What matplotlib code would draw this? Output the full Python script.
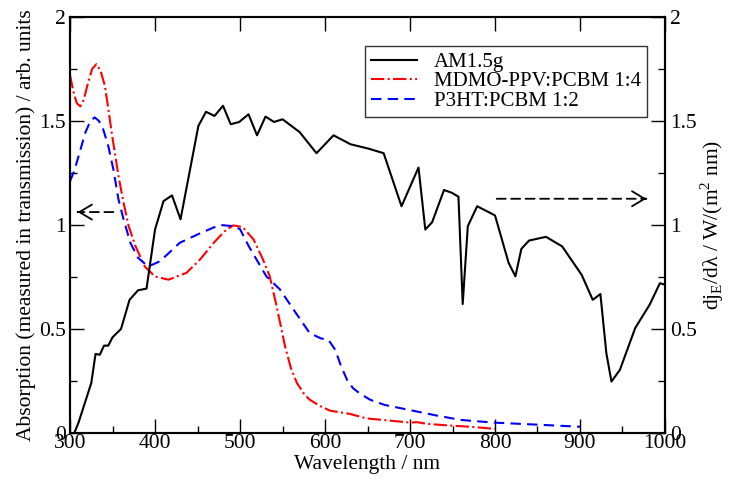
import matplotlib.pyplot as plt
from matplotlib.ticker import MultipleLocator

plt.rcParams['font.family'] = ['Liberation Serif', 'DejaVu Serif']
plt.rcParams['mathtext.fontset'] = 'custom'
plt.rcParams['mathtext.rm'] = 'Liberation Serif'

# AM1.5g spectrum (right axis)
am_wl = [305, 310, 325, 330, 335, 340, 345, 350, 360, 370, 380, 390, 400, 410, 420,
         430, 451, 460, 470, 480, 489, 499, 510, 520, 530, 540, 550, 570, 590, 610,
         630, 651, 669, 690, 710, 718, 726, 740, 749, 757, 762, 768, 779, 800, 816,
         824, 831, 840, 860, 879, 902, 915, 924, 931, 937, 947, 965, 982, 994, 1000]
am_val = [0.0, 0.05, 0.24, 0.38, 0.376, 0.42, 0.42, 0.46, 0.50, 0.64, 0.686, 0.694,
          0.978, 1.115, 1.142, 1.027, 1.476, 1.544, 1.524, 1.573, 1.484, 1.495, 1.532,
          1.431, 1.521, 1.495, 1.508, 1.447, 1.345, 1.431, 1.388, 1.367, 1.345, 1.09,
          1.276, 0.978, 1.013, 1.168, 1.155, 1.136, 0.62, 0.994, 1.09, 1.046, 0.818,
          0.753, 0.885, 0.925, 0.943, 0.897, 0.76, 0.64, 0.668, 0.384, 0.247, 0.304,
          0.505, 0.617, 0.72, 0.713]

# MDMO-PPV:PCBM 1:4 absorption
mdmo_wl = [300, 304, 308, 312, 316, 321, 326, 331, 336, 341, 345, 349, 353, 357, 363,
           369, 377, 388, 400, 416, 437, 453, 469, 482, 492, 503, 516, 527, 535, 543,
           553, 560, 567, 575, 582, 594, 606, 629, 649, 680, 700, 708, 720, 739, 770, 800]
mdmo_val = [1.72, 1.64, 1.585, 1.57, 1.6, 1.68, 1.75, 1.773, 1.74, 1.669, 1.56, 1.444,
            1.34, 1.235, 1.107, 0.994, 0.898, 0.80, 0.752, 0.737, 0.77, 0.834, 0.914,
            0.97, 0.998, 0.99, 0.93, 0.834, 0.753, 0.61, 0.416, 0.31, 0.24, 0.19, 0.16,
            0.13, 0.107, 0.092, 0.07, 0.058, 0.05, 0.052, 0.044, 0.038, 0.03, 0.02]

# P3HT:PCBM 1:2 absorption
p3ht_wl = [300, 305, 310, 318, 324, 329, 334, 339, 345, 351, 357, 363, 371, 380, 392,
           406, 429, 453, 476, 490, 500, 510, 531, 547, 563, 582, 595, 604, 612, 619,
           626, 633, 641, 653, 670, 700, 730, 759, 798, 850, 900]
p3ht_val = [1.21, 1.26, 1.33, 1.444, 1.50, 1.517, 1.50, 1.46, 1.38, 1.267, 1.123, 1.027,
            0.914, 0.842, 0.80, 0.826, 0.914, 0.96, 1.0, 0.995, 0.98, 0.90, 0.753, 0.69,
            0.593, 0.48, 0.455, 0.448, 0.40, 0.32, 0.255, 0.215, 0.19, 0.16, 0.135,
            0.11, 0.085, 0.063, 0.05, 0.04, 0.03]

fig = plt.figure(figsize=(7.31, 4.84), dpi=100)
ax = fig.add_axes([0.0958, 0.1054, 0.8139, 0.8596])
ax2 = ax.twinx()

l2, = ax.plot(mdmo_wl, mdmo_val, color='red', linestyle='-.', linewidth=1.5,
              label='MDMO-PPV:PCBM 1:4')
l3, = ax.plot(p3ht_wl, p3ht_val, color='blue', linestyle=(0, (5, 3)), linewidth=1.5,
              label='P3HT:PCBM 1:2')
l1, = ax2.plot(am_wl, am_val, color='black', linewidth=1.5, label='AM1.5g')

for a in (ax, ax2):
    a.set_xlim(300, 1000)
    a.set_ylim(0, 2)
    a.yaxis.set_major_locator(MultipleLocator(0.5))
    a.yaxis.set_minor_locator(MultipleLocator(0.25))
    a.tick_params(which='both', direction='in', labelsize=15.5, width=1.0)
    a.tick_params(which='major', length=10)
    a.tick_params(which='minor', length=5)
    for s in a.spines.values():
        s.set_linewidth(1.5)

ax.xaxis.set_major_locator(MultipleLocator(100))
ax.xaxis.set_minor_locator(MultipleLocator(50))
ax.tick_params(axis='x', top=True, pad=1)
ax.yaxis.set_major_formatter(plt.FuncFormatter(lambda v, p: f'{v:g}'))
ax2.yaxis.set_major_formatter(plt.FuncFormatter(lambda v, p: f'{v:g}'))
ax.tick_params(axis='y', pad=3)

ax.set_xlabel('Wavelength / nm', fontsize=15.5, labelpad=1)
ax.set_ylabel('Absorption (measured in transmission) / arb. units', fontsize=15.5, labelpad=2)
ax2.set_ylabel(r'dj$_\mathrm{E}$/dλ / W/(m$^2$ nm)', fontsize=15.5, labelpad=1)

# arrows showing which axis each curve belongs to: dashed shaft + solid head
head_style = '->, head_length=0.5, head_width=0.3'
for tip, tail, y in [(309, 351, 1.062), (978, 802, 1.126)]:
    ax.annotate('', xy=(tip, y), xytext=(tail, y),
                arrowprops=dict(arrowstyle='-', linestyle=(0, (5, 3)), color='black',
                                lw=1.3, shrinkA=0, shrinkB=0))
    step = 1 if tail > tip else -1
    ax.annotate('', xy=(tip, y), xytext=(tip + step, y),
                arrowprops=dict(arrowstyle=head_style, color='black', lw=1.3,
                                mutation_scale=18, shrinkA=0, shrinkB=0))

leg = ax2.legend(handles=[l1, l2, l3], loc='upper right', bbox_to_anchor=(0.97, 0.93),
                 fontsize=15, frameon=True, fancybox=False, handlelength=2.2,
                 borderpad=0.3, labelspacing=0.0, handletextpad=0.8, borderaxespad=0)
leg.get_frame().set_edgecolor('black')
leg.get_frame().set_linewidth(1.0)

fig.savefig('out.png', dpi=100)
